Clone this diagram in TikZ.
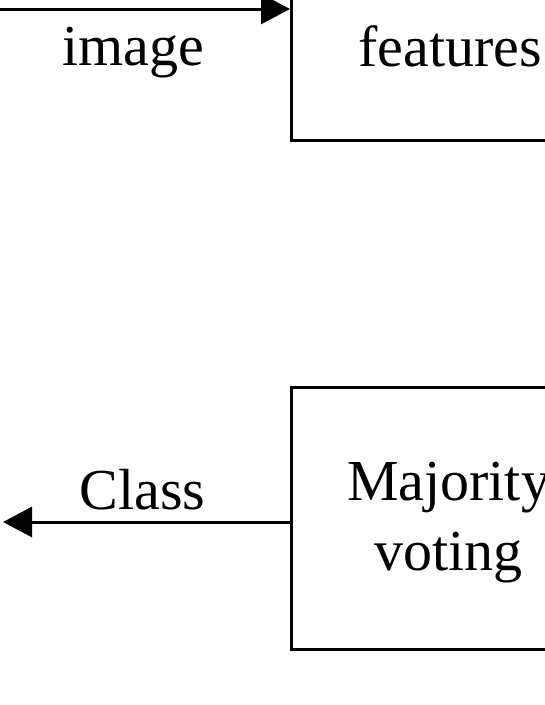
\documentclass[tikz,border=0pt]{standalone}
\usepackage{fontspec}
\setmainfont{Liberation Serif}
\usetikzlibrary{arrows.meta}
\begin{document}
\begin{tikzpicture}[x=1pt,y=1pt,
  blk/.style={draw=black,line width=3pt,minimum width=314pt,minimum height=262pt,inner sep=0pt},
  lbl/.style={font=\fontsize{58}{70}\selectfont,inner sep=0pt,align=center},
  conn/.style={line width=3pt,-{Triangle[length=29pt,width=30pt]}}]
\useasboundingbox (0,0) rectangle (545,-705);
\clip (0,0) rectangle (545,-705);
\node[blk] (fbox) at (448.5,-9) {};
\node[lbl,anchor=base] (ftxt) at (450,-66) {features};
\node[blk] (mv) at (448.5,-518) {};
\node[lbl] (mvt) at (448.5,-523) {Majority\\voting};
\coordinate (cin) at (-5,-9);
\coordinate (cout) at (3,-522);
\draw[conn] (cin) -- (fbox.west);
\node[lbl,anchor=base] (itxt) at (133,-65) {image};
\draw[conn] (mv.west |- cout) -- (cout);
\node[lbl,anchor=base] (ctxt) at (142.5,-509) {Class};
\end{tikzpicture}
\end{document}
